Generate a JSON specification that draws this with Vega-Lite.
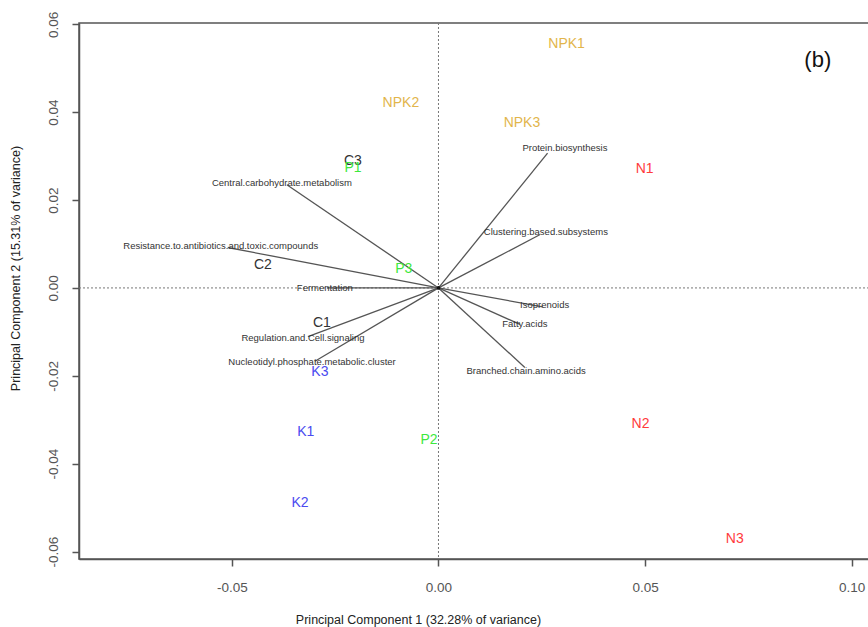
{
  "$schema": "https://vega.github.io/schema/vega-lite/v6.json",
  "autosize": "none",
  "padding": {"left": 79, "top": 23, "right": 0, "bottom": 68},
  "width": 814,
  "height": 536,
  "background": "white",
  "config": {
    "font": "Liberation Sans",
    "view": {"stroke": "#555555", "strokeWidth": 1.5},
    "axis": {"grid": false, "domainColor": "#555555", "domainWidth": 1.5, "tickColor": "#555555", "tickWidth": 1.5, "tickSize": 7, "labelColor": "#555555", "labelFontSize": 13.5, "titleColor": "#222222", "titleFontSize": 12.5, "titleFontWeight": "normal", "labelFont": "Liberation Sans", "titleFont": "Liberation Sans"}
  },
  "datasets": {
    "arrows": [
      {"name": "Protein.biosynthesis", "x": 0.0264, "y": 0.0307, "lx": 0.0306, "ly": 0.0318},
      {"name": "Central.carbohydrate.metabolism", "x": -0.0367, "y": 0.0235, "lx": -0.0379, "ly": 0.0239},
      {"name": "Resistance.to.antibiotics.and.toxic.compounds", "x": -0.051, "y": 0.0092, "lx": -0.0527, "ly": 0.0096},
      {"name": "Fermentation", "x": -0.027, "y": 0.0, "lx": -0.0275, "ly": 0.0},
      {"name": "Regulation.and.Cell.signaling", "x": -0.0316, "y": -0.0111, "lx": -0.0328, "ly": -0.0113},
      {"name": "Nucleotidyl.phosphate.metabolic.cluster", "x": -0.0299, "y": -0.0167, "lx": -0.0306, "ly": -0.0168},
      {"name": "Clustering.based.subsystems", "x": 0.0245, "y": 0.0121, "lx": 0.026, "ly": 0.0128},
      {"name": "Isoprenoids", "x": 0.0252, "y": -0.0043, "lx": 0.0257, "ly": -0.004},
      {"name": "Fatty.acids", "x": 0.0197, "y": -0.0083, "lx": 0.0209, "ly": -0.0081},
      {"name": "Branched.chain.amino.acids", "x": 0.0209, "y": -0.0181, "lx": 0.0212, "ly": -0.0188}
    ],
    "samples": [
      {"name": "NPK1", "group": "NPK", "x": 0.031, "y": 0.0555},
      {"name": "NPK2", "group": "NPK", "x": -0.0091, "y": 0.0421},
      {"name": "NPK3", "group": "NPK", "x": 0.0202, "y": 0.0376},
      {"name": "C3", "group": "C", "x": -0.0207, "y": 0.0289},
      {"name": "P1", "group": "P", "x": -0.0207, "y": 0.0273},
      {"name": "N1", "group": "N", "x": 0.0499, "y": 0.0271},
      {"name": "C2", "group": "C", "x": -0.0425, "y": 0.0053},
      {"name": "P3", "group": "P", "x": -0.0084, "y": 0.0044},
      {"name": "C1", "group": "C", "x": -0.0282, "y": -0.0079},
      {"name": "K3", "group": "K", "x": -0.0287, "y": -0.0192},
      {"name": "K1", "group": "K", "x": -0.0321, "y": -0.0329},
      {"name": "P2", "group": "P", "x": -0.0023, "y": -0.0347},
      {"name": "K2", "group": "K", "x": -0.0335, "y": -0.049},
      {"name": "N2", "group": "N", "x": 0.0489, "y": -0.0309},
      {"name": "N3", "group": "N", "x": 0.0717, "y": -0.0572}
    ]
  },
  "layer": [
    {
      "data": {"values": [{"v": 0}]},
      "mark": {"type": "rule", "color": "#777777", "strokeDash": [2, 2], "strokeWidth": 1},
      "encoding": {
        "x": {"field": "v", "type": "quantitative", "scale": {"domain": [-0.087, 0.11], "nice": false, "zero": false},
          "axis": {"values": [-0.05, 0, 0.05, 0.1], "labelExpr": "replace(format(datum.value, '.2f'), '\u2212', '-')", "title": "Principal Component 1 (32.28% of variance)", "labelBaseline": "middle", "labelPadding": 21, "titleX": 339, "titleY": 60, "titleBaseline": "middle", "titleAnchor": null, "titleAlign": "center"}}
      }
    },
    {
      "data": {"values": [{"v": 0}]},
      "mark": {"type": "rule", "color": "#777777", "strokeDash": [2, 2], "strokeWidth": 1},
      "encoding": {
        "y": {"field": "v", "type": "quantitative", "scale": {"domain": [-0.0617, 0.0603], "nice": false, "zero": false},
          "axis": {"values": [-0.06, -0.04, -0.02, 0, 0.02, 0.04, 0.06], "labelExpr": "replace(format(datum.value, '.2f'), '\u2212', '-')", "title": "Principal Component 2 (15.31% of variance)", "labelAngle": 270, "labelAlign": "center", "labelBaseline": "middle", "labelPadding": 19, "titleX": -64, "titleY": 245, "titleBaseline": "middle", "titleAlign": "center", "titleAngle": 270}}
      }
    },
    {
      "data": {"name": "arrows"},
      "mark": {"type": "rule", "color": "#555555", "strokeWidth": 1.3},
      "encoding": {
        "x": {"field": "x", "type": "quantitative"},
        "y": {"field": "y", "type": "quantitative"},
        "x2": {"datum": 0},
        "y2": {"datum": 0}
      }
    },
    {
      "data": {"name": "arrows"},
      "mark": {"type": "text", "fontSize": 9.5, "color": "#333333", "align": "center", "baseline": "middle"},
      "encoding": {
        "x": {"field": "lx", "type": "quantitative"},
        "y": {"field": "ly", "type": "quantitative"},
        "text": {"field": "name"}
      }
    },
    {
      "data": {"values": [{"x": 0, "y": 0}]},
      "mark": {"type": "point", "shape": "circle", "filled": true, "color": "#111111", "size": 14, "opacity": 1},
      "encoding": {
        "x": {"field": "x", "type": "quantitative"},
        "y": {"field": "y", "type": "quantitative"}
      }
    },
    {
      "data": {"name": "samples"},
      "mark": {"type": "text", "fontSize": 14, "align": "center", "baseline": "middle"},
      "encoding": {
        "x": {"field": "x", "type": "quantitative"},
        "y": {"field": "y", "type": "quantitative"},
        "text": {"field": "name"},
        "color": {"field": "group", "type": "nominal", "legend": null,
          "scale": {"domain": ["NPK", "N", "P", "K", "C"], "range": ["#E2B54B", "#FF3B3B", "#3DE83D", "#4B4BF0", "#333333"]}}
      }
    },
    {
      "data": {"values": [{"label": "(b)", "x": 0.0918, "y": 0.0519}]},
      "mark": {"type": "text", "fontSize": 22, "color": "#111111", "align": "center", "baseline": "middle"},
      "encoding": {
        "x": {"field": "x", "type": "quantitative"},
        "y": {"field": "y", "type": "quantitative"},
        "text": {"field": "label"}
      }
    }
  ]
}
